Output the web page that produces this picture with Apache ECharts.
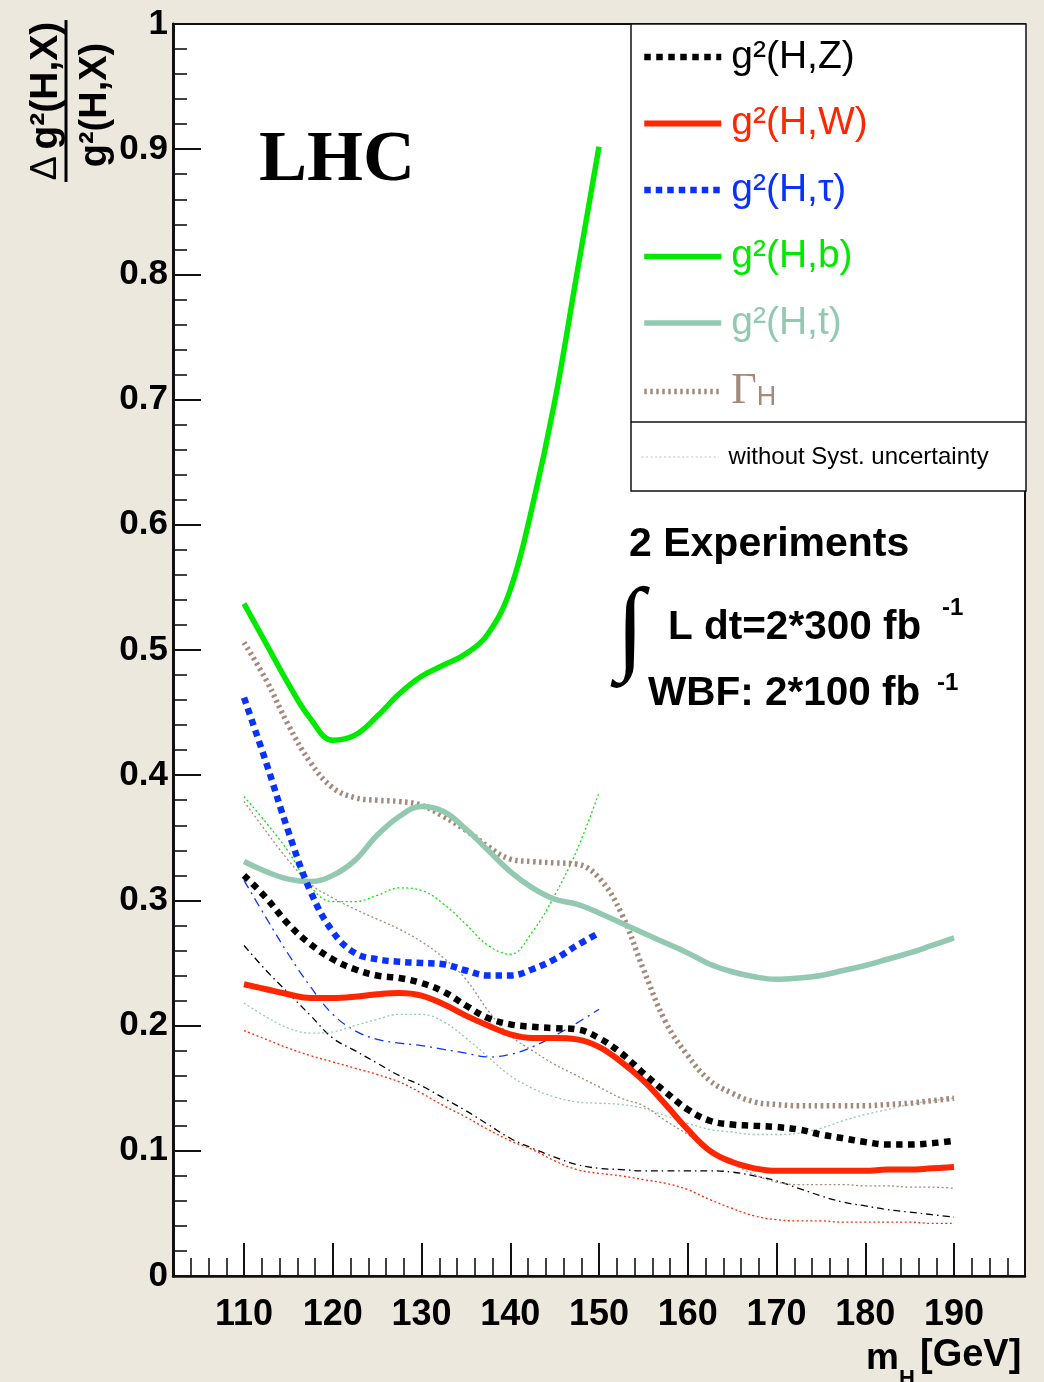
<!DOCTYPE html>
<html>
<head>
<meta charset="utf-8">
<script src="https://cdn.jsdelivr.net/npm/echarts@6/dist/echarts.min.js"></script>
<style>
  html, body { margin: 0; padding: 0; background: #ece8dd; }
  #chart { width: 1044px; height: 1382px; }
</style>
</head>
<body>
<div id="chart"></div>
<script>
// Higgs mass points (GeV)
const MASS_FULL = [110, 112.5, 115, 117.5, 120, 122.5, 125, 127.5, 130, 132.5, 135, 137.5, 140,
  142.5, 145, 147.5, 150, 152.5, 155, 157.5, 160, 162.5, 165, 167.5, 170, 172.5, 175, 177.5,
  180, 182.5, 185, 187.5, 190];
const MASS_LOW = [110, 112.5, 115, 117.5, 120, 122.5, 125, 127.5, 130, 132.5, 135, 137.5, 140,
  142.5, 145, 147.5, 150];

// relative precision, including systematic uncertainty
const HZ = [0.320, 0.302, 0.281, 0.265, 0.253, 0.245, 0.240, 0.238, 0.234, 0.227, 0.216, 0.206, 0.201,
  0.199, 0.198, 0.197, 0.190, 0.178, 0.162, 0.147, 0.133, 0.124, 0.121, 0.120, 0.119, 0.117, 0.113, 0.110,
  0.107, 0.105, 0.105, 0.106, 0.108];
const HW = [0.233, 0.229, 0.225, 0.222, 0.222, 0.223, 0.225, 0.226, 0.224, 0.217, 0.208, 0.200, 0.193,
  0.190, 0.190, 0.189, 0.183, 0.171, 0.156, 0.137, 0.117, 0.100, 0.091, 0.086, 0.084, 0.084, 0.084, 0.084,
  0.084, 0.085, 0.085, 0.086, 0.087];
const HTAU = [0.462, 0.410, 0.355, 0.307, 0.275, 0.258, 0.253, 0.251, 0.250, 0.249, 0.244, 0.240, 0.240,
  0.245, 0.253, 0.264, 0.274];
const HB = [0.537, 0.505, 0.473, 0.445, 0.428, 0.432, 0.447, 0.465, 0.479, 0.488, 0.497, 0.513, 0.548,
  0.615, 0.698, 0.800, 0.902];
const HT = [0.331, 0.323, 0.317, 0.315, 0.320, 0.332, 0.352, 0.367, 0.375, 0.371, 0.357, 0.340, 0.323,
  0.310, 0.301, 0.297, 0.290, 0.282, 0.274, 0.266, 0.258, 0.249, 0.243, 0.239, 0.237, 0.238, 0.240, 0.244,
  0.248, 0.253, 0.258, 0.264, 0.270];
const GAMMA = [0.506, 0.476, 0.440, 0.410, 0.390, 0.382, 0.380, 0.379, 0.376, 0.367, 0.356, 0.343, 0.333,
  0.331, 0.330, 0.329, 0.318, 0.290, 0.245, 0.203, 0.176, 0.156, 0.146, 0.139, 0.137, 0.136, 0.136, 0.136,
  0.136, 0.137, 0.138, 0.140, 0.142];

// relative precision, statistical only
const HZ_STAT = [0.264, 0.244, 0.226, 0.208, 0.190, 0.180, 0.170, 0.160, 0.152, 0.142, 0.132, 0.121, 0.110,
  0.102, 0.095, 0.089, 0.086, 0.085, 0.084, 0.084, 0.084, 0.084, 0.083, 0.080, 0.076, 0.070, 0.064, 0.059,
  0.056, 0.053, 0.051, 0.049, 0.047];
const HW_STAT = [0.196, 0.189, 0.182, 0.176, 0.171, 0.166, 0.161, 0.155, 0.146, 0.136, 0.127, 0.117, 0.108,
  0.101, 0.092, 0.085, 0.082, 0.080, 0.077, 0.074, 0.069, 0.061, 0.054, 0.048, 0.045, 0.044, 0.044, 0.043,
  0.043, 0.043, 0.043, 0.042, 0.042];
const HTAU_STAT = [0.316, 0.286, 0.257, 0.231, 0.209, 0.196, 0.189, 0.186, 0.184, 0.181, 0.178, 0.175, 0.177,
  0.183, 0.192, 0.202, 0.213];
const HB_STAT = [0.383, 0.362, 0.339, 0.311, 0.299, 0.299, 0.304, 0.310, 0.308, 0.297, 0.281, 0.264, 0.257,
  0.275, 0.304, 0.340, 0.386];
const HT_STAT = [0.218, 0.207, 0.198, 0.194, 0.195, 0.200, 0.205, 0.209, 0.209, 0.203, 0.190, 0.175, 0.160,
  0.150, 0.143, 0.139, 0.138, 0.137, 0.134, 0.128, 0.122, 0.117, 0.115, 0.113, 0.113, 0.114, 0.118, 0.124,
  0.129, 0.133, 0.137, 0.140, 0.142];
const GAMMA_STAT = [0.379, 0.355, 0.332, 0.313, 0.302, 0.293, 0.285, 0.277, 0.267, 0.254, 0.237, 0.212, 0.192,
  0.180, 0.169, 0.160, 0.151, 0.142, 0.136, 0.124, 0.113, 0.100, 0.090, 0.081, 0.075, 0.073, 0.073, 0.073,
  0.072, 0.072, 0.071, 0.071, 0.070];

const X_TICKS = [110, 120, 130, 140, 150, 160, 170, 180, 190];
const Y_TICKS = [0, 0.1, 0.2, 0.3, 0.4, 0.5, 0.6, 0.7, 0.8, 0.9, 1];

const C = {
  z: '#000000', w: '#ff2600', tau: '#0a32ff', b: '#00ea00', t: '#93c9b1', g: '#a48a7c', stat: '#b6c8bc'
};
const SANS = 'Liberation Sans, Arial, Helvetica, sans-serif';
const SERIF = 'Liberation Serif, Times New Roman, serif';

function pairs(xs, ys) { return xs.map((x, i) => [x, ys[i]]); }

function curve(name, xs, ys, color, width, type) {
  return {
    type: 'line', name, data: pairs(xs, ys), xAxisIndex: 0, yAxisIndex: 0,
    smooth: 0.4, symbol: 'none', showSymbol: false, silent: true,
    lineStyle: { color, width, type, cap: 'butt' },
    itemStyle: { color }
  };
}

const series = [
  curve('g²(H,Z) stat', MASS_FULL, HZ_STAT, C.z, 1.3, [7, 4, 1.5, 4]),
  curve('g²(H,W) stat', MASS_FULL, HW_STAT, C.w, 1.3, [2, 2.5]),
  curve('g²(H,τ) stat', MASS_LOW, HTAU_STAT, C.tau, 1.3, [9, 5, 2, 5]),
  curve('g²(H,b) stat', MASS_LOW, HB_STAT, C.b, 1.3, [2, 2.5]),
  curve('g²(H,t) stat', MASS_FULL, HT_STAT, C.t, 1.3, [2, 2.5]),
  curve('ΓH stat', MASS_FULL, GAMMA_STAT, C.g, 1.3, [2, 2.5]),
  curve('ΓH', MASS_FULL, GAMMA, C.g, 5.5, [2.5, 3.5]),
  curve('g²(H,t)', MASS_FULL, HT, C.t, 5.5, 'solid'),
  curve('g²(H,b)', MASS_LOW, HB, C.b, 5.5, 'solid'),
  curve('g²(H,W)', MASS_FULL, HW, C.w, 6, 'solid'),
  curve('g²(H,τ)', MASS_LOW, HTAU, C.tau, 6.5, [6.5, 5]),
  curve('g²(H,Z)', MASS_FULL, HZ, C.z, 6.5, [6.5, 5.5]),
  { type: 'line', name: 'without Syst. uncertainty', data: [], symbol: 'none',
    lineStyle: { color: C.stat, width: 1.2, type: [2, 2.5] }, itemStyle: { color: C.stat } }
];

const chart = echarts.init(document.getElementById('chart'), null, { renderer: 'canvas' });

const txt = (x, y, text, size, extra) => ({
  type: 'text', x, y, z: 10,
  style: Object.assign({
    text, fontSize: size, fontFamily: SANS, fontWeight: 'bold', fill: '#000',
    textAlign: 'left', textVerticalAlign: 'middle'
  }, extra || {})
});

const legendCommon = {
  orient: 'vertical', left: 641, padding: 0, itemWidth: 77, itemHeight: 2, selectedMode: false,
  lineStyle: { width: 'inherit', type: 'inherit', cap: 'butt' },
  itemStyle: { opacity: 0, borderWidth: 0 }
};

chart.setOption({
  animation: false,
  backgroundColor: '#ece8dd',
  grid: {
    left: 173, top: 24, width: 852, height: 1252, show: true,
    backgroundColor: '#ffffff', borderColor: '#111', borderWidth: 2, containLabel: false
  },
  xAxis: [
    {
      type: 'value', min: 102, max: 198, position: 'bottom',
      axisLine: { show: true, onZero: false, lineStyle: { color: '#111', width: 2.5 } },
      axisTick: { show: true, inside: true, length: 33, customValues: X_TICKS, lineStyle: { color: '#111', width: 2 } },
      axisLabel: { show: true, customValues: X_TICKS, margin: 21, color: '#000', fontSize: 36,
        fontWeight: 'bold', fontFamily: SANS },
      splitLine: { show: false }
    },
    {
      type: 'value', min: 102, max: 198, interval: 2, position: 'bottom',
      axisLine: { show: false, onZero: false },
      axisTick: { show: true, inside: true, length: 18, lineStyle: { color: '#111', width: 1.6 } },
      axisLabel: { show: false },
      splitLine: { show: false }
    }
  ],
  yAxis: {
    type: 'value', min: 0, max: 1, interval: 0.1,
    axisLine: { show: true, onZero: false, lineStyle: { color: '#111', width: 3 } },
    axisTick: { show: true, inside: true, length: 28, lineStyle: { color: '#111', width: 2 } },
    minorTick: { show: true, splitNumber: 5, length: 14, lineStyle: { color: '#111', width: 1.6 } },
    axisLabel: { customValues: Y_TICKS, margin: 5, color: '#000', fontSize: 35, fontWeight: 'bold', fontFamily: SANS },
    splitLine: { show: false }, minorSplitLine: { show: false }
  },
  legend: [
    Object.assign({}, legendCommon, {
      top: 37, itemGap: 26.5,
      textStyle: {
        fontFamily: SANS, fontSize: 39, lineHeight: 40, padding: [0, 0, 0, 5],
        rich: {
          G: { fontFamily: SERIF, fontSize: 44, lineHeight: 40, color: C.g },
          H: { fontFamily: SANS, fontSize: 27, lineHeight: 12, color: C.g, verticalAlign: 'bottom' }
        }
      },
      formatter: (name) => name === 'ΓH' ? '{G|Γ}{H|H}' : name,
      data: [
        { name: 'g²(H,Z)', textStyle: { color: C.z } },
        { name: 'g²(H,W)', textStyle: { color: C.w } },
        { name: 'g²(H,τ)', textStyle: { color: C.tau } },
        { name: 'g²(H,b)', textStyle: { color: C.b } },
        { name: 'g²(H,t)', textStyle: { color: C.t } },
        { name: 'ΓH', textStyle: { color: C.g } }
      ]
    }),
    Object.assign({}, legendCommon, {
      top: 444,
      textStyle: { fontFamily: SANS, fontSize: 24, lineHeight: 26, color: '#000', padding: [0, 0, 0, 5] },
      data: ['without Syst. uncertainty']
    })
  ],
  graphic: [
    // legend frame
    { type: 'rect', z: 1, shape: { x: 631, y: 24, width: 395, height: 467 },
      style: { fill: '#ffffff', stroke: '#111', lineWidth: 1.5 } },
    { type: 'line', z: 1, shape: { x1: 631, y1: 422, x2: 1026, y2: 422 },
      style: { stroke: '#111', lineWidth: 1.5 } },
    // y axis title: fraction
    { type: 'text', x: 46, y: 101, rotation: Math.PI / 2, z: 10,
      style: { text: '{d|Δ}  {n|g²(H,X)}', textAlign: 'center', textVerticalAlign: 'middle', fill: '#000',
        rich: { d: { fontFamily: SANS, fontSize: 36, fontWeight: 'normal' },
                n: { fontFamily: SANS, fontSize: 39, fontWeight: 'bold' } } } },
    { type: 'line', z: 10, shape: { x1: 66, y1: 20, x2: 66, y2: 182 }, style: { stroke: '#000', lineWidth: 3 } },
    { type: 'text', x: 96, y: 105, rotation: Math.PI / 2, z: 10,
      style: { text: 'g²(H,X)', textAlign: 'center', textVerticalAlign: 'middle', fill: '#000',
        fontFamily: SANS, fontSize: 38, fontWeight: 'bold' } },
    // x axis title
    txt(866, 1359, 'm', 37),
    txt(899, 1379, 'H', 22),
    txt(920, 1356, '[GeV]', 38),
    // annotations
    txt(259, 161, 'LHC', 72, { fontFamily: SERIF }),
    txt(629, 545, '2 Experiments', 41),
    txt(616, 633, '∫', 104, { fontFamily: SERIF, fontWeight: 'bold' }),
    txt(668, 628, 'L dt=2*300 fb', 40.5),
    txt(942, 608, '-1', 24),
    txt(648, 694, 'WBF: 2*100 fb', 40.5),
    txt(937, 683, '-1', 24)
  ],
  series
});
</script>
</body>
</html>
